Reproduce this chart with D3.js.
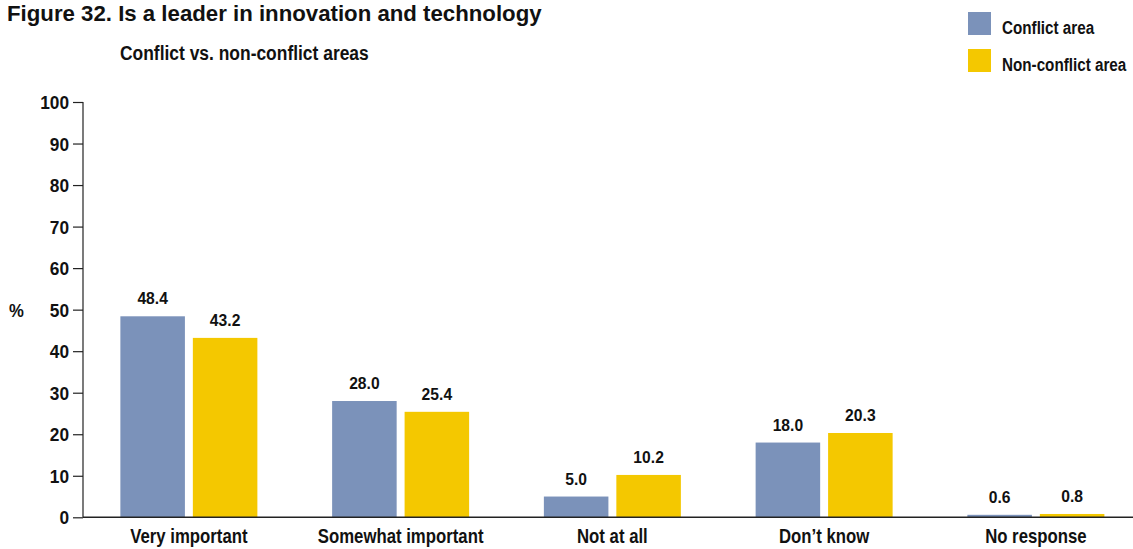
<!DOCTYPE html>
<html><head><meta charset="utf-8">
<script src="https://cdn.jsdelivr.net/npm/d3@7"></script>
<style>
body{margin:0;background:#fff;}
text{font-family:"Liberation Sans",Arial,sans-serif;font-weight:bold;fill:#111;}
</style></head><body>
<svg id="chart" width="1133" height="549"></svg>
<script>
const categories = ["Very important","Somewhat important","Not at all","Don\u2019t know","No response"];
const seriesNames = ["Conflict area","Non-conflict area"];
const conflict = [48.4, 28.0, 5.0, 18.0, 0.6];
const nonConflict = [43.2, 25.4, 10.2, 20.3, 0.8];
const yTicks = [0,10,20,30,40,50,60,70,80,90,100];
const colors = ["#7b92ba","#f4c800"];

const svg = d3.select("#chart");
const x0 = d3.scaleBand().domain(categories).range([83, 1141.75]).padding(0);
const x1 = d3.scaleBand().domain(seriesNames).range([0,137]).paddingInner(15/137);
const y = d3.scaleLinear().domain([0,100]).range([517.3,102]);
const values = [conflict, nonConflict];

function txt(x, yy, str, size, sx, anchor){
  return svg.append("text")
    .attr("transform",`translate(${x},${yy}) scale(${sx},1)`)
    .attr("text-anchor",anchor||"start")
    .style("font-size",size+"px").text(str);
}

// titles
txt(7, 20.5, "Figure 32. Is a leader in innovation and technology", 22, 1.01);
txt(120, 60, "Conflict vs. non-conflict areas", 20.5, 0.85);

// bars
categories.forEach((c,i)=>{
  const gx = x0(c) + (x0.bandwidth()-137)/2;
  seriesNames.forEach((s,j)=>{
    const v = values[j][i];
    svg.append("rect").attr("x",gx + x1(s)).attr("y",y(v)).attr("width",x1.bandwidth()).attr("height",y(0)-y(v)).attr("fill",colors[j]);
    txt(gx + x1(s)+x1.bandwidth()/2, y(v)-12, v.toFixed(1), 16.5, 0.95, "middle");
  });
});

// y axis
const yAxis = svg.append("g").attr("transform","translate(83,0)").call(d3.axisLeft(y).tickValues(yTicks).tickSize(10).tickPadding(4));
yAxis.selectAll("text").style("font-size","18px").attr("x",null).attr("dy","0.36em")
  .attr("transform","translate(-14,0) scale(0.96,1)").style("fill","#111");
yAxis.selectAll("line,path").attr("stroke","#222").attr("stroke-width",1.2);
yAxis.select(".domain").attr("d","M0,102V517.3");

// x axis
const xAxis = svg.append("g").attr("transform","translate(0,517.3)").call(d3.axisBottom(x0).tickSize(0).tickPadding(0));
xAxis.select(".domain").attr("d","M83,0H1133").attr("stroke","#222").attr("stroke-width",1.6);
xAxis.selectAll("text").style("font-size","19.5px").attr("y",null).attr("dy",null)
  .attr("transform","translate(0,25.7) scale(0.86,1)").style("fill","#111");

txt(9, 317, "%", 19, 0.88);

// legend
seriesNames.forEach((s,j)=>{
  svg.append("rect").attr("x",968).attr("y",12+j*37).attr("width",23).attr("height",23).attr("fill",colors[j]);
  txt(1002, 33.5+j*37.5, s, 17.5, 0.87);
});
</script></body></html>
